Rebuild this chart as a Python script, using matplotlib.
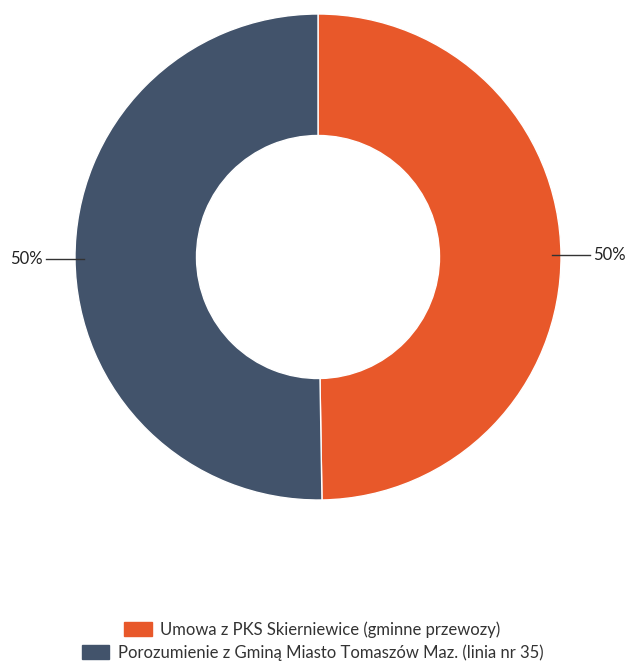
import numpy as np
import matplotlib
matplotlib.use("Agg")
import matplotlib.pyplot as plt

categories = ["Umowa z PKS Skierniewice (gminne przewozy)",
              "Porozumienie z Gminą Miasto Tomaszów Maz. (linia nr 35)"]
values = [49.74, 50.26]
colors = ["#E8582A", "#42536B"]

plt.rcParams['font.family'] = ['Lato', 'DejaVu Sans']

W, H = 625, 662
fig = plt.figure(figsize=(W/100, H/100), dpi=100)
cx, cy, R = 318, 257, 243
ax = fig.add_axes([(cx-R)/W, (H-cy-R)/H, 2*R/W, 2*R/H])

wedges, _ = ax.pie(values, colors=colors, startangle=90, counterclock=False,
                   radius=1, wedgeprops=dict(width=0.5, edgecolor='white', linewidth=1))
ax.set_xlim(-1, 1); ax.set_ylim(-1, 1)
ax.axis('off')

total = sum(values)
for w, v in zip(wedges, values):
    ang = np.deg2rad((w.theta1 + w.theta2) / 2)
    x0, y0 = 0.963*np.cos(ang), 0.963*np.sin(ang)
    sgn = 1 if x0 >= 0 else -1
    x1 = sgn*1.12
    ax.plot([x0, x1], [y0, y0], color='#333333', lw=1, clip_on=False)
    ax.text(x1 + sgn*0.012, y0, f"{v/total*100:.0f}%", ha='left' if sgn > 0 else 'right',
            va='center', fontsize=12, color='#222222', clip_on=False)

rows_y = [629.5, 652.5]
for cat, c, yy in zip(categories, colors, rows_y):
    h = plt.Rectangle((0, 0), 1, 1, color=c)
    fig.legend([h], [cat], loc='center', bbox_to_anchor=(0.5, 1 - yy/H),
               frameon=False, fontsize=12, handlelength=1.65, handleheight=0.85,
               handletextpad=0.5, borderpad=0.0, borderaxespad=0.0, labelcolor='#333333')

fig.savefig("out.png", dpi=100)
